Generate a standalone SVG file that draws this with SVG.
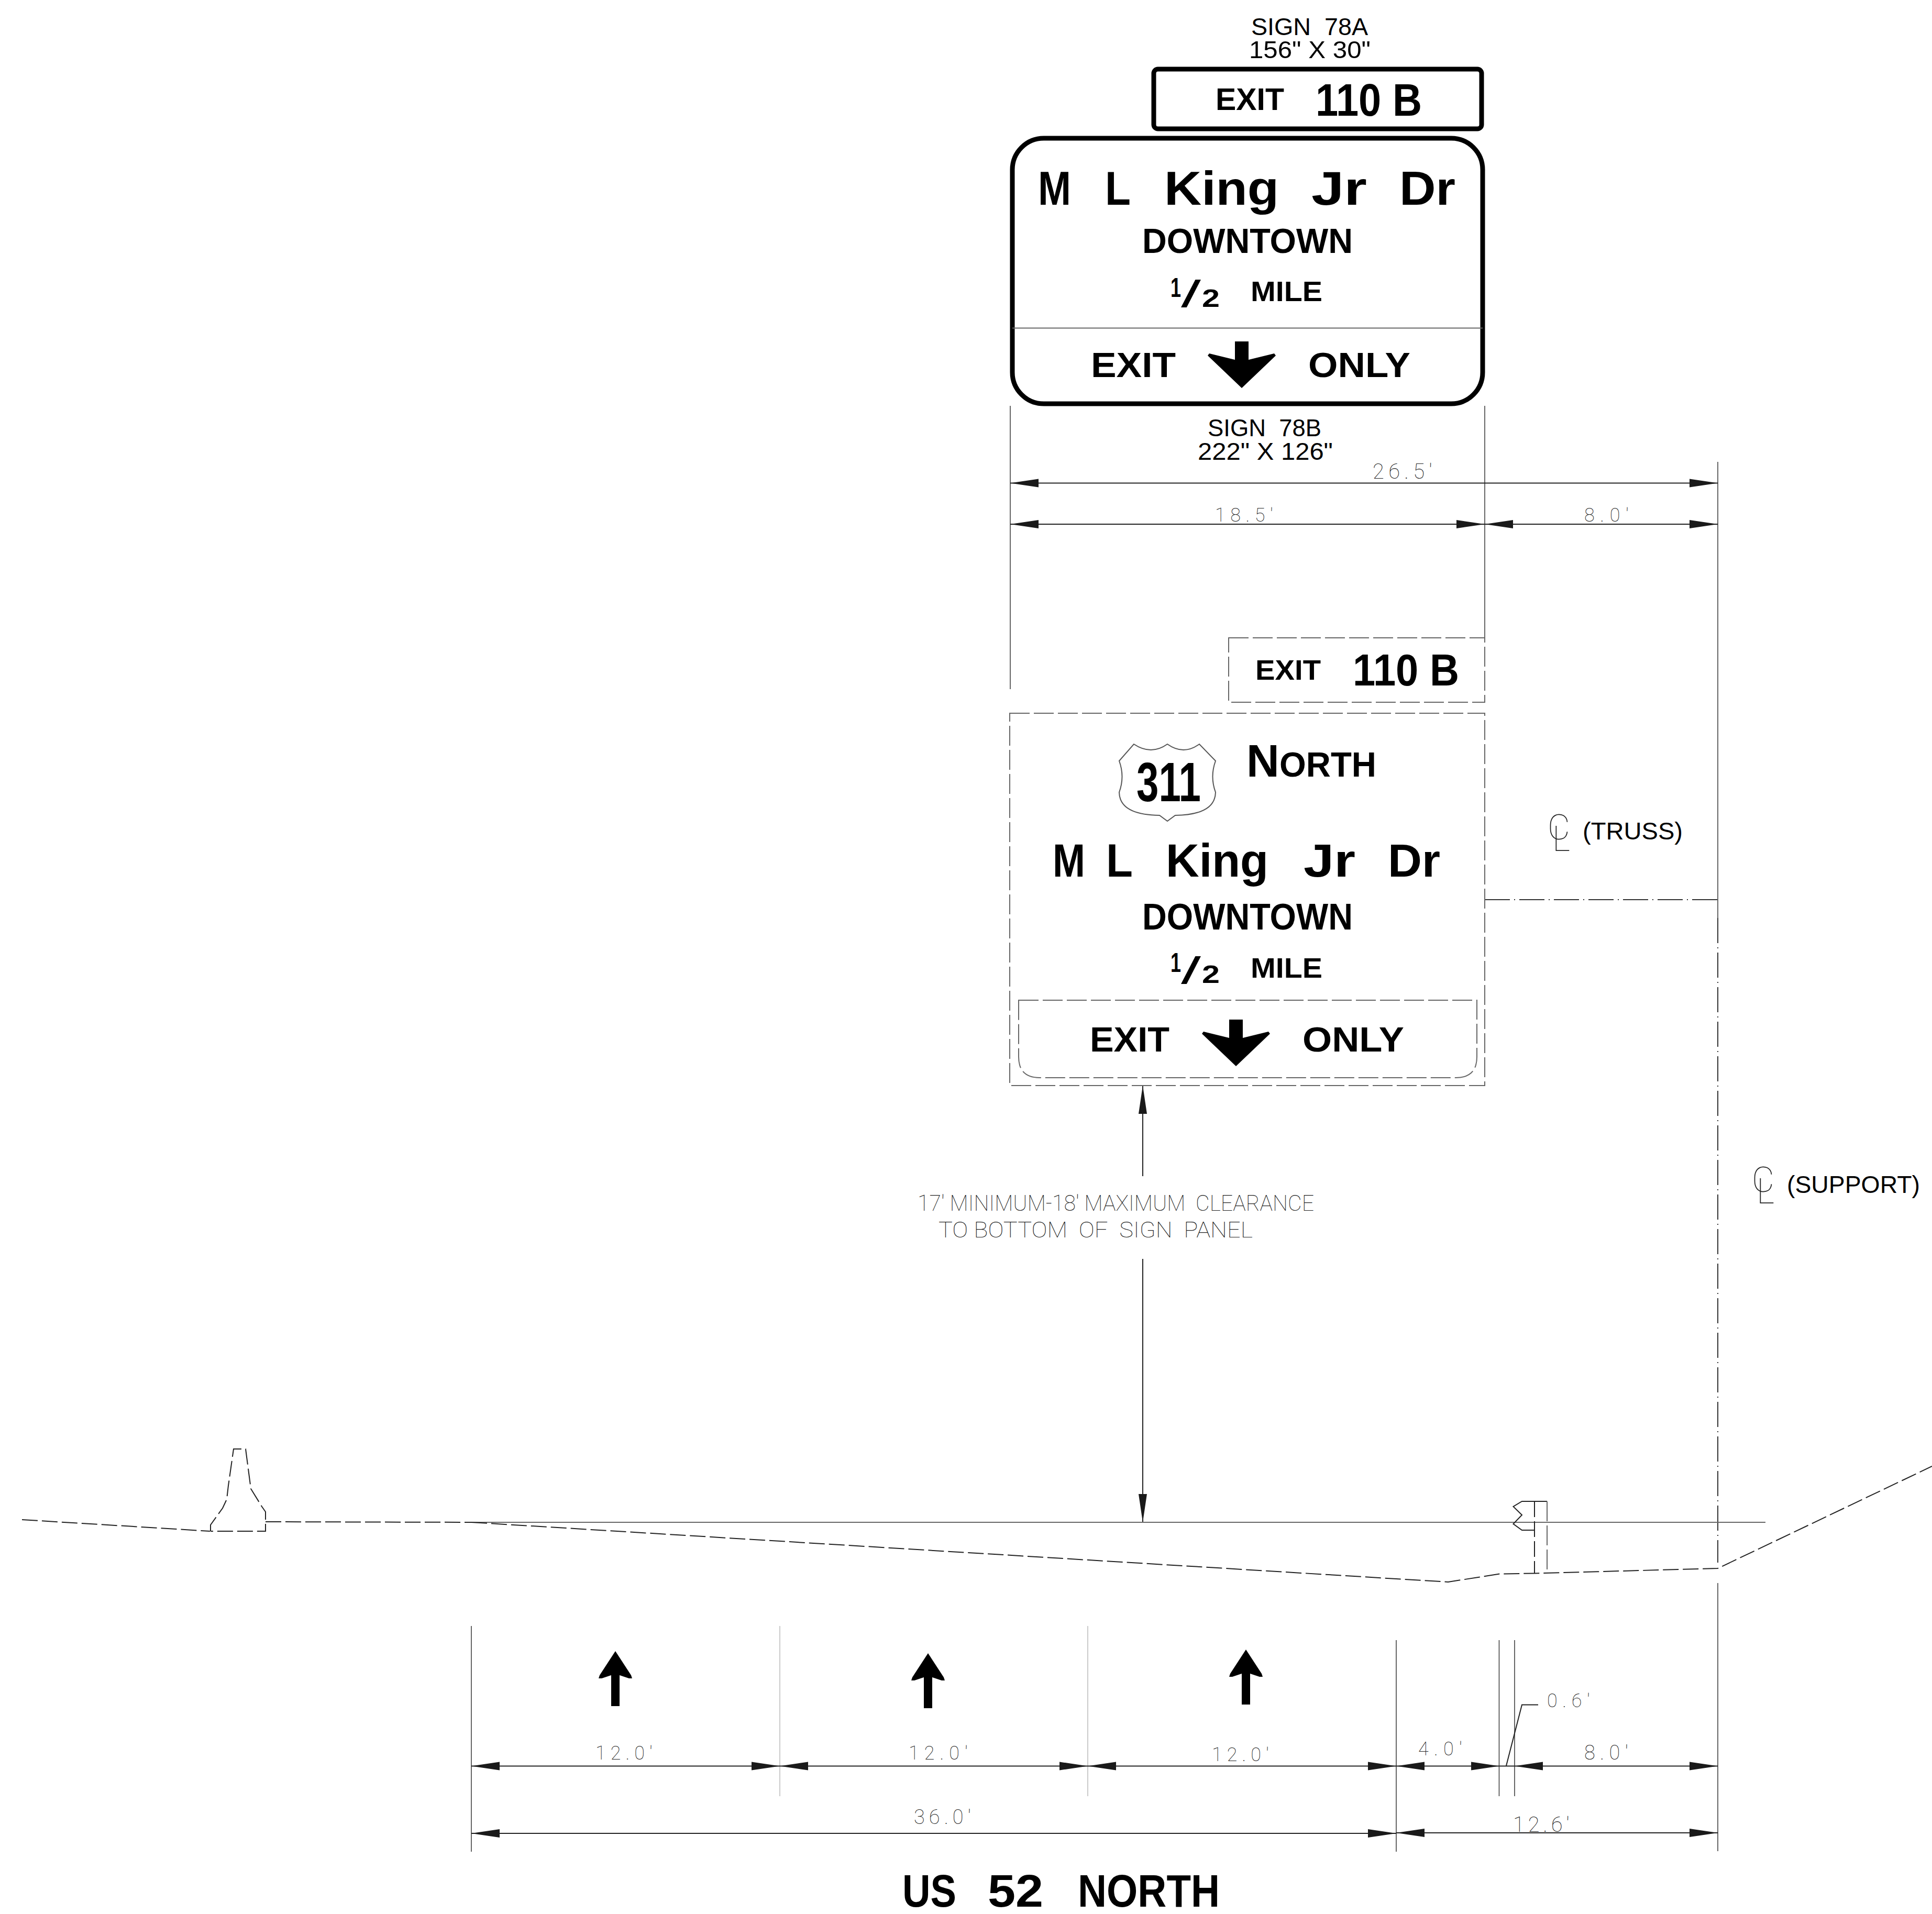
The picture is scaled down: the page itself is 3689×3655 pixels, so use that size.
<svg xmlns="http://www.w3.org/2000/svg" width="3689" height="3655" viewBox="0 0 3689 3655">
<style>
text{white-space:pre}
.sign{font-family:"Liberation Sans",Arial,sans-serif;font-weight:700;fill:#000}
.note{font-family:"Liberation Sans",Arial,sans-serif;fill:#000;font-weight:400}
.dim{font-family:Roboto,"Liberation Sans",sans-serif;font-weight:100;fill:#222}
.sl{font-weight:400}
.ln{fill:none;stroke:#666;stroke-width:2}
.lt{fill:none;stroke:#bbb;stroke-width:1.5}
.dk{fill:none;stroke:#222;stroke-width:2}
.dash{fill:none;stroke:#666;stroke-width:2;stroke-dasharray:38 8}
.gnd{fill:none;stroke:#222;stroke-width:2;stroke-dasharray:30 8}
.cl{fill:none;stroke:#333;stroke-width:2;stroke-dasharray:48 8 2 8}
.panel{fill:#fff;stroke:#000;stroke-width:9}
.ar{marker-start:url(#head);marker-end:url(#head)}
</style>
<defs>
<marker id="head" markerUnits="userSpaceOnUse" markerWidth="56" markerHeight="20" viewBox="0 -10 56 20" refX="54" refY="0" orient="auto-start-reverse"><path d="M0-8L54 0L0 8Z" fill="#1a1a1a"/></marker>
<path id="down" d="M-13-46H13V-11L62-23L65-19L0 43L-65-19L-62-23L-13-11Z" fill="#000"/>
<path id="up" d="M0-52L30-6L32 0L26 0L8-6V53H-8V-6L-26 0L-32 0L-30-6Z" fill="#000"/>
</defs>
<rect width="3689" height="3655" fill="#fff"/>

<g id="connectors">
<path class="ln" d="M1929 775V1316M2835 775V1218M3280 882V1753"/>
<path class="dk ar" d="M1929 922.500H3280"/>
<path class="dk ar" d="M1929 1001H2835"/>
<path class="dk ar" d="M2835 1001H3280"/>
<path class="dk" d="M2182 2073V2246M2182 2404V2907"/>
<path class="dk" d="M2182 2127L2182 2073" marker-end="url(#head)"/>
<path class="dk" d="M2182 2854L2182 2907" marker-end="url(#head)"/>
<path class="cl" d="M2835 1718H3280"/>
<path class="cl" d="M3280 1753V2984"/>
<path class="ln" d="M3280 3023V3535M900 3105V3536M2666 3132V3536M2862.500 3132V3430M2892 3132V3430"/>
<path class="lt" d="M1489 3105V3430M2077 3105V3430"/>
<path class="dk ar" d="M900 3372.500H1489"/>
<path class="dk ar" d="M1489 3372.500H2077"/>
<path class="dk ar" d="M2077 3372.500H2666"/>
<path class="dk ar" d="M2666 3372.500H2862.500"/>
<path class="dk ar" d="M2892 3372.500H3280"/>
<path class="dk" d="M2862.500 3372.500H2892M2876 3372L2906 3255.500H2937"/>
<path class="dk ar" d="M900 3501H2666"/>
<path class="dk ar" d="M2666 3500H3280"/>
</g>

<g id="ground">
<path class="gnd" d="M42 2902L401 2924"/>
<path class="gnd" d="M402 2924V2912L425 2880L433 2863L436 2837L446 2767H469L479 2843L500 2877L507 2887V2924H402"/>
<path class="gnd" d="M507 2906L900 2907"/>
<path class="ln" d="M900 2907H3371"/>
<path class="gnd" d="M900 2907L2765 3021L2864 3005.500L2930 3004.500L3280 2995L3689 2800"/>
<path class="dk" d="M2930 2922H2906L2889.500 2910L2906 2893L2889.500 2877L2906 2867H2954"/>
<path class="gnd" d="M2930 2867V3004"/>
<path class="dash" d="M2954 2867V3004"/>
</g>

<g id="sign-78a">
<rect class="panel" x="2203" y="132" width="626" height="114" rx="8"/>
<text class="sign"><tspan x="2321" y="210" font-size="59" textLength="131" lengthAdjust="spacingAndGlyphs">EXIT</tspan><tspan x="2512" y="221" font-size="88" textLength="203" lengthAdjust="spacingAndGlyphs">110 B</tspan></text>
<text class="note" x="2389" y="67" font-size="46" textLength="223" lengthAdjust="spacingAndGlyphs">SIGN  78A</text>
<text class="note" x="2385" y="111" font-size="47" textLength="232" lengthAdjust="spacingAndGlyphs">156" X 30"</text>
</g>

<g id="sign-78b">
<rect class="panel" x="1933" y="264" width="898" height="507" rx="60"/>
<path d="M1933 626.500H2831" stroke="#666" stroke-width="2"/>
<text class="sign" font-size="91"><tspan x="1982" y="391" textLength="63" lengthAdjust="spacingAndGlyphs">M</tspan><tspan x="2110" y="391" textLength="49" lengthAdjust="spacingAndGlyphs">L</tspan><tspan x="2223" y="391" textLength="219" lengthAdjust="spacingAndGlyphs">King</tspan><tspan x="2504" y="391" textLength="106" lengthAdjust="spacingAndGlyphs">Jr</tspan><tspan x="2672" y="391" textLength="107" lengthAdjust="spacingAndGlyphs">Dr</tspan></text>
<text class="sign" x="2181" y="483" font-size="67" textLength="402" lengthAdjust="spacingAndGlyphs">DOWNTOWN</text>
<text class="sign"><tspan x="2235" y="567" font-size="52" textLength="20" lengthAdjust="spacingAndGlyphs">1</tspan><tspan class="sl" x="2255" y="586" font-size="72" textLength="38" lengthAdjust="spacingAndGlyphs">/</tspan><tspan x="2295" y="586" font-size="49" textLength="34" lengthAdjust="spacingAndGlyphs">2</tspan><tspan x="2388" y="575" font-size="53" textLength="137" lengthAdjust="spacingAndGlyphs">MILE</tspan></text>
<text class="sign" font-size="66"><tspan x="2083" y="720" textLength="162" lengthAdjust="spacingAndGlyphs">EXIT</tspan><tspan x="2498" y="720" textLength="195" lengthAdjust="spacingAndGlyphs">ONLY</tspan></text>
<use href="#down" x="2371" y="698"/>
<text class="note" x="2306" y="833" font-size="46" textLength="217" lengthAdjust="spacingAndGlyphs">SIGN  78B</text>
<text class="note" x="2287" y="878" font-size="47" textLength="258" lengthAdjust="spacingAndGlyphs">222" X 126"</text>
</g>

<g id="sign-proposed-exit">
<rect class="dash" x="2346" y="1218" width="489" height="123"/>
<text class="sign"><tspan x="2397" y="1298" font-size="53" textLength="125" lengthAdjust="spacingAndGlyphs">EXIT</tspan><tspan x="2583" y="1309" font-size="85" textLength="203" lengthAdjust="spacingAndGlyphs">110 B</tspan></text>
</g>

<g id="sign-proposed-main">
<rect class="dash" x="1928" y="1362" width="907" height="711"/>
<path d="M2165 1421Q2198 1443 2229 1421Q2260 1443 2290 1421L2321 1453Q2310 1483 2321 1513Q2320 1556 2244 1557L2229 1568L2214 1557Q2138 1556 2137 1513Q2148 1483 2137 1453Z" fill="#fff" stroke="#555" stroke-width="2"/>
<text class="sign" x="2170" y="1530" font-size="105" textLength="123" lengthAdjust="spacingAndGlyphs">311</text>
<text class="sign"><tspan x="2380" y="1483" font-size="87">N</tspan><tspan x="2443" y="1483" font-size="67" textLength="185" lengthAdjust="spacingAndGlyphs">ORTH</tspan></text>
<text class="sign" font-size="89"><tspan x="2010" y="1674" textLength="62" lengthAdjust="spacingAndGlyphs">M</tspan><tspan x="2112" y="1674" textLength="51" lengthAdjust="spacingAndGlyphs">L</tspan><tspan x="2226" y="1674" textLength="196" lengthAdjust="spacingAndGlyphs">King</tspan><tspan x="2489" y="1674" textLength="99" lengthAdjust="spacingAndGlyphs">Jr</tspan><tspan x="2650" y="1674" textLength="100" lengthAdjust="spacingAndGlyphs">Dr</tspan></text>
<text class="sign" x="2181" y="1775" font-size="70" textLength="402" lengthAdjust="spacingAndGlyphs">DOWNTOWN</text>
<text class="sign"><tspan x="2235" y="1856" font-size="52" textLength="20" lengthAdjust="spacingAndGlyphs">1</tspan><tspan class="sl" x="2255" y="1878" font-size="72" textLength="38" lengthAdjust="spacingAndGlyphs">/</tspan><tspan x="2295" y="1877" font-size="49" textLength="34" lengthAdjust="spacingAndGlyphs">2</tspan><tspan x="2388" y="1867" font-size="53" textLength="137" lengthAdjust="spacingAndGlyphs">MILE</tspan></text>
<path class="dash" d="M1945 1910H2820V2018Q2820 2058 2780 2058H1985Q1945 2058 1945 2018Z"/>
<text class="sign" font-size="67"><tspan x="2081" y="2008" textLength="152" lengthAdjust="spacingAndGlyphs">EXIT</tspan><tspan x="2487" y="2008" textLength="194" lengthAdjust="spacingAndGlyphs">ONLY</tspan></text>
<use href="#down" x="2360" y="1993"/>
</g>

<g id="lane-arrows">
<use href="#up" x="1175" y="3205"/>
<use href="#up" x="1772" y="3209"/>
<use href="#up" x="2379" y="3202"/>
</g>

<g id="labels">
<text class="dim" x="2621" y="914" font-size="40" textLength="114">26.5'</text>
<text class="dim" x="2320" y="996" font-size="36" textLength="111">18.5'</text>
<text class="dim" x="3025" y="996" font-size="36" textLength="85">8.0'</text>
<text class="dim" x="1752" y="2312" font-size="42" textLength="757" lengthAdjust="spacingAndGlyphs">17' MINIMUM-18' MAXIMUM  CLEARANCE</text>
<text class="dim" x="1792" y="2363" font-size="42" textLength="600" lengthAdjust="spacingAndGlyphs">TO BOTTOM  OF  SIGN  PANEL</text>
<text class="dim" x="1137" y="3360" font-size="36" textLength="109">12.0'</text>
<text class="dim" x="1735" y="3360" font-size="36" textLength="113">12.0'</text>
<text class="dim" x="2314" y="3363" font-size="36" textLength="109">12.0'</text>
<text class="dim" x="2708" y="3352" font-size="36" textLength="84">4.0'</text>
<text class="dim" x="3025" y="3360" font-size="38" textLength="84">8.0'</text>
<text class="dim" x="2954" y="3260" font-size="36" textLength="82">0.6'</text>
<text class="dim" x="1745" y="3483" font-size="38" textLength="109">36.0'</text>
<text class="dim" x="2889" y="3498" font-size="40" textLength="108">12.6'</text>
<text class="note" x="3022" y="1603" font-size="46" textLength="191" lengthAdjust="spacingAndGlyphs">(TRUSS)</text>
<text class="dim" font-size="66"><tspan x="2955" y="1603">C</tspan><tspan x="2964" y="1625">L</tspan></text>
<text class="note" x="3412" y="2278" font-size="46" textLength="254" lengthAdjust="spacingAndGlyphs">(SUPPORT)</text>
<text class="dim" font-size="66"><tspan x="3345" y="2276">C</tspan><tspan x="3354" y="2298">L</tspan></text>
<text class="sign" font-size="87"><tspan x="1723" y="3641" textLength="103" lengthAdjust="spacingAndGlyphs">US</tspan><tspan x="1886" y="3641" textLength="106" lengthAdjust="spacingAndGlyphs">52</tspan><tspan x="2058" y="3641" textLength="271" lengthAdjust="spacingAndGlyphs">NORTH</tspan></text>
</g>
</svg>
